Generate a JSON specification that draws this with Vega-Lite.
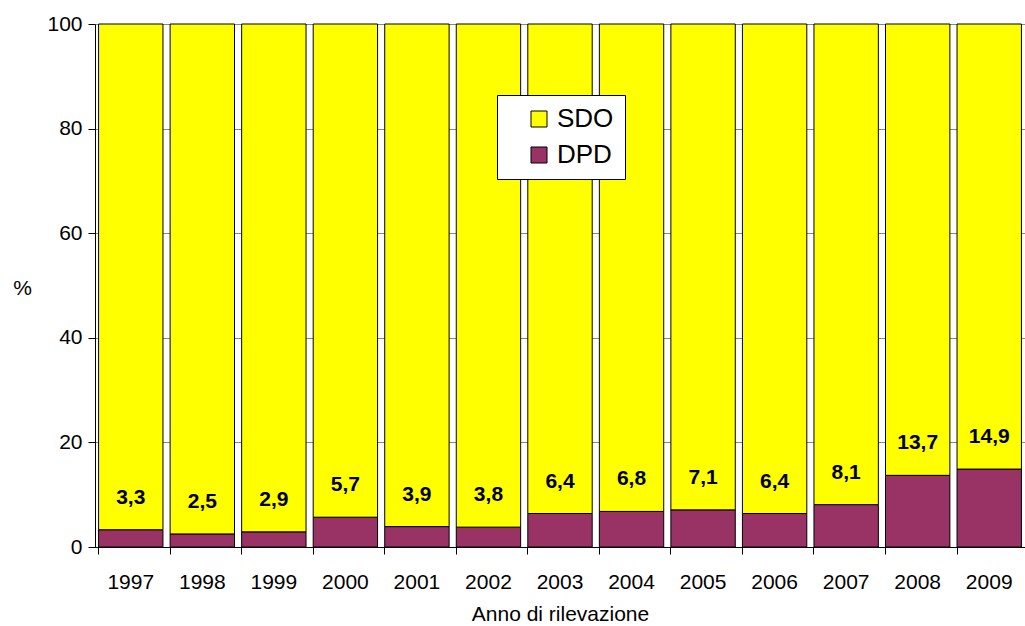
{
  "$schema": "https://vega.github.io/schema/vega-lite/v6.json",
  "width": 930,
  "height": 523,
  "autosize": {"type": "none"},
  "padding": {"left": 95, "top": 24, "right": 0, "bottom": 79},
  "background": "white",
  "config": {
    "font": "Liberation Sans",
    "view": {"stroke": null},
    "locale": {"number": {"decimal": ",", "thousands": ".", "grouping": [3], "currency": ["€", ""]}}
  },
  "data": {
    "values": [
      {"year": "1997", "serie": "DPD", "value": 3.3},
      {"year": "1998", "serie": "DPD", "value": 2.5},
      {"year": "1999", "serie": "DPD", "value": 2.9},
      {"year": "2000", "serie": "DPD", "value": 5.7},
      {"year": "2001", "serie": "DPD", "value": 3.9},
      {"year": "2002", "serie": "DPD", "value": 3.8},
      {"year": "2003", "serie": "DPD", "value": 6.4},
      {"year": "2004", "serie": "DPD", "value": 6.8},
      {"year": "2005", "serie": "DPD", "value": 7.1},
      {"year": "2006", "serie": "DPD", "value": 6.4},
      {"year": "2007", "serie": "DPD", "value": 8.1},
      {"year": "2008", "serie": "DPD", "value": 13.7},
      {"year": "2009", "serie": "DPD", "value": 14.9},
      {"year": "1997", "serie": "SDO", "value": 96.7},
      {"year": "1998", "serie": "SDO", "value": 97.5},
      {"year": "1999", "serie": "SDO", "value": 97.1},
      {"year": "2000", "serie": "SDO", "value": 94.3},
      {"year": "2001", "serie": "SDO", "value": 96.1},
      {"year": "2002", "serie": "SDO", "value": 96.2},
      {"year": "2003", "serie": "SDO", "value": 93.6},
      {"year": "2004", "serie": "SDO", "value": 93.2},
      {"year": "2005", "serie": "SDO", "value": 92.9},
      {"year": "2006", "serie": "SDO", "value": 93.6},
      {"year": "2007", "serie": "SDO", "value": 91.9},
      {"year": "2008", "serie": "SDO", "value": 86.3},
      {"year": "2009", "serie": "SDO", "value": 85.1}
    ]
  },
  "encoding": {
    "x": {
      "field": "year",
      "type": "ordinal",
      "scale": {"paddingInner": 0.1, "paddingOuter": 0.05},
      "axis": {
        "title": "Anno di rilevazione",
        "titleFontSize": 21,
        "titleFontWeight": "normal",
        "titleColor": "black",
        "titlePadding": 11,
        "labelAngle": 0,
        "labelFontSize": 21,
        "labelColor": "black",
        "labelPadding": 17,
        "bandPosition": 0,
        "tickSize": 7,
        "tickColor": "black",
        "domainColor": "black",
        "grid": false
      }
    }
  },
  "layer": [
    {
      "mark": {"type": "bar", "stroke": "black", "strokeWidth": 1},
      "encoding": {
        "y": {
          "field": "value",
          "type": "quantitative",
          "stack": "zero",
          "scale": {"domain": [0, 100], "nice": false},
          "axis": {
            "title": "%",
            "titleAngle": 0,
            "titleFontSize": 21,
            "titleFontWeight": "normal",
            "titleColor": "black",
            "titleX": -73,
            "titleY": 274,
            "values": [0, 20, 40, 60, 80, 100],
            "labelFontSize": 21,
            "labelColor": "black",
            "labelPadding": 6,
            "tickSize": 7,
            "tickColor": "black",
            "domainColor": "black",
            "grid": true,
            "gridColor": "#888888"
          }
        },
        "color": {
          "field": "serie",
          "type": "nominal",
          "scale": {"domain": ["SDO", "DPD"], "range": ["#FFFF00", "#993366"]},
          "legend": {
            "title": null,
            "orient": "none",
            "legendX": 402,
            "legendY": 71,
            "fillColor": "white",
            "strokeColor": "black",
            "padding": 11,
            "symbolType": "square",
            "symbolSize": 256,
            "symbolStrokeColor": "black",
            "symbolStrokeWidth": 1,
            "symbolOpacity": 1,
            "symbolOffset": 18,
            "labelFontSize": 26,
            "labelColor": "black",
            "labelOffset": 5,
            "rowPadding": 10
          }
        },
        "order": {"field": "serie", "sort": "ascending"}
      }
    },
    {
      "transform": [{"filter": "datum.serie === 'DPD'"}],
      "mark": {"type": "text", "fontSize": 21, "fontWeight": "bold", "color": "black", "dy": -32, "baseline": "middle"},
      "encoding": {
        "y": {"field": "value", "type": "quantitative"},
        "text": {"field": "value", "type": "quantitative", "format": ".1f"}
      }
    }
  ]
}
